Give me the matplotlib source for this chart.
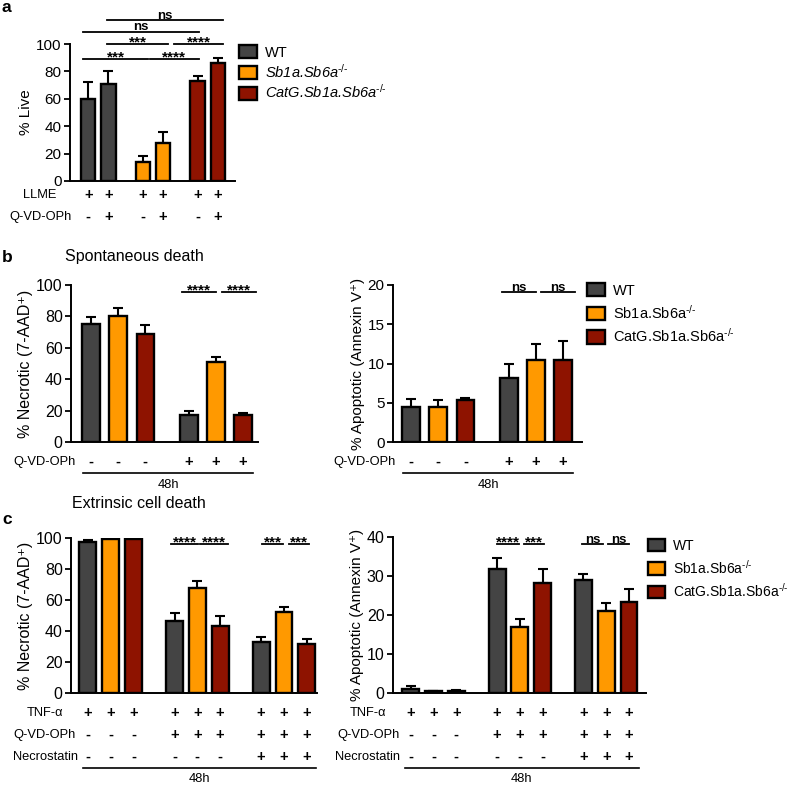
import numpy as np
import matplotlib
matplotlib.use("Agg")
import matplotlib.pyplot as plt
import matplotlib.patches as mpatches
from matplotlib import transforms

plt.rcParams['font.family'] = ['Liberation Sans', 'DejaVu Sans']
plt.rcParams['mathtext.fontset'] = 'custom'
plt.rcParams['mathtext.rm'] = 'Liberation Sans'
plt.rcParams['mathtext.it'] = 'Liberation Sans:italic'

# genotypes and colours
genotypes = ["WT", "Sb1a.Sb6a$^{\u2010/\u2010}$", "CatG.Sb1a.Sb6a$^{\u2010/\u2010}$"]
colors = ["#444444", "#FF9900", "#8E1300"]

# panel a: % live after LLME (WT, WT, Sb, Sb, CatG, CatG)
a_mean = [60, 71, 14, 28, 73, 86]
a_err = [12, 9, 4, 8, 4, 4]
a_llme = ["+", "+", "+", "+", "+", "+"]
a_qvd = ["-", "+", "-", "+", "-", "+"]

# panel b: spontaneous death, 48h (WT, Sb, CatG) x (-QVD, +QVD)
b_nec_mean = [75, 80, 69, 17.5, 51, 17]
b_nec_err = [4.5, 5.5, 5.5, 2, 3, 1.5]
b_apo_mean = [4.4, 4.5, 5.3, 8.1, 10.4, 10.4]
b_apo_err = [1.1, 0.8, 0.3, 1.8, 2.1, 2.5]
b_qvd = ["-", "-", "-", "+", "+", "+"]

# panel c: extrinsic cell death, 48h
c_nec_mean = [97.4, 99.4, 99.4, 46.5, 67.7, 43.2, 32.9, 52.3, 31.6]
c_nec_err = [1.3, 0.4, 0.3, 5.1, 4.6, 6.5, 3.4, 3.2, 3.2]
c_apo_mean = [1.0, 0.4, 0.5, 31.8, 16.9, 28.2, 29.0, 21.0, 23.3]
c_apo_err = [0.8, 0.2, 0.2, 2.8, 2.1, 3.6, 1.5, 2.0, 3.3]
c_tnf = ["+"] * 9
c_qvd = ["-", "-", "-", "+", "+", "+", "+", "+", "+"]
c_nec = ["-", "-", "-", "-", "-", "-", "+", "+", "+"]

W, H = 800, 785
fig = plt.figure(figsize=(W / 100, H / 100), dpi=100)


def axes_px(x0, x1, ytop, ybot):
    return fig.add_axes([x0 / W, 1 - ybot / H, (x1 - x0) / W, (ybot - ytop) / H])


def bars(ax, pos, mean, err, cols, width, ymax, ticks, ylabel, xlim, fs=11.5, lfs=None):
    ax.bar(pos, mean, width, color=cols, edgecolor="black", linewidth=1.7, zorder=2)
    ax.errorbar(pos, mean, yerr=[np.zeros(len(err)), err], fmt="none", ecolor="black",
                elinewidth=1.5, capsize=3.5, capthick=1.5, zorder=1)
    ax.set_xlim(*xlim)
    ax.set_ylim(0, ymax)
    ax.set_yticks(ticks)
    ax.set_xticks([])
    ax.spines["top"].set_visible(False)
    ax.spines["right"].set_visible(False)
    ax.spines["left"].set_linewidth(1.4)
    ax.spines["bottom"].set_linewidth(1.4)
    ax.tick_params(axis="y", length=4, width=1.3, labelsize=fs, pad=2)
    ax.set_ylabel(ylabel, fontsize=lfs or fs, labelpad=2)


def sig(ax, x1, x2, y, label):
    ax.plot([x1, x2], [y, y], color="black", lw=1.3, clip_on=False)
    star = "*" in label
    ax.annotate(label, ((x1 + x2) / 2, y), xytext=(0, -1.5 if star else 1),
                textcoords="offset points", ha="center", va="baseline",
                fontsize=11 if star else 9.5, fontweight="bold", annotation_clip=False)


def row(ax, pos, marks, ypx, label, xlab):
    tr = transforms.blended_transform_factory(ax.transData, fig.transFigure)
    for p, m in zip(pos, marks):
        ax.text(p, 1 - ypx / H, m, transform=tr, ha="center", va="center",
                fontsize=10.5, fontweight="bold")
    fig.text(xlab / W, 1 - ypx / H, label, ha="center", va="center", fontsize=9.3)


def underline(ax, x1, x2, ypx, ytxt):
    tr = transforms.blended_transform_factory(ax.transData, fig.transFigure)
    ax.plot([x1, x2], [1 - ypx / H] * 2, color="black", lw=1.2, transform=tr, clip_on=False)
    ax.text((x1 + x2) / 2, 1 - ytxt / H, "48h", transform=tr, ha="center", va="center",
            fontsize=9.3)


def legend(x, ytop, italic, spacing, fs=10.5):
    handles = [mpatches.Patch(facecolor=c, edgecolor="black", linewidth=1.7) for c in colors]
    prop = {"size": fs, "style": "italic" if italic else "normal"}
    leg = fig.legend(handles, genotypes, loc="upper left", bbox_to_anchor=(x / W, 1 - ytop / H),
                     frameon=False, prop=prop, handlelength=1.2, handleheight=1.0,
                     handletextpad=0.6, labelspacing=spacing, borderpad=0, borderaxespad=0)
    if italic:
        leg.get_texts()[0].set_fontstyle("normal")


# ---------- panel a ----------
cols_a = [colors[0], colors[0], colors[1], colors[1], colors[2], colors[2]]
xa = np.array([0, 1, 2.7, 3.7, 5.4, 6.4])
axa = axes_px(70, 235, 44, 181)
bars(axa, xa, a_mean, a_err, cols_a, 0.7, 100, range(0, 101, 20), "% Live", (-0.9, 7.25), fs=11)
sig(axa, xa[0] - 0.25, xa[2] + 0.25, 89, "***")
sig(axa, xa[2] + 0.35, xa[4] + 0.05, 89, "****")
sig(axa, xa[1] - 0.05, xa[3] + 0.25, 100, "***")
sig(axa, xa[3] + 0.55, xa[5] + 0.25, 100, "****")
sig(axa, xa[0] - 0.25, xa[4] + 0.05, 109, "ns")
sig(axa, xa[1] - 0.05, xa[5] + 0.25, 117.5, "ns")
row(axa, xa, a_llme, 195, "LLME", 40)
row(axa, xa, a_qvd, 217, "Q-VD-OPh", 40)
legend(239, 45, True, 0.2)
fig.text(2 / W, 1 - 12 / H, "a", fontsize=12.5, fontweight="bold", va="baseline")

# ---------- panel b ----------
cols_b = colors * 2
xb = np.array([0, 1, 2, 3.6, 4.6, 5.6])
fig.text(2 / W, 1 - 262 / H, "b", fontsize=12.5, fontweight="bold", va="baseline")
fig.text(65 / W, 1 - 257 / H, "Spontaneous death", fontsize=11.5, va="center")

axb1 = axes_px(71, 258, 285, 442)
bars(axb1, xb, b_nec_mean, b_nec_err, cols_b, 0.65, 100, range(0, 101, 20),
     "% Necrotic (7-AAD\u207a)", (-0.74, 6.15))
sig(axb1, xb[3] - 0.26, xb[4], 95.5, "****")
sig(axb1, xb[4] + 0.22, xb[5] + 0.48, 95.5, "****")
row(axb1, xb, b_qvd, 462, "Q-VD-OPh", 44.5)
underline(axb1, xb[0] - 0.3, xb[-1] + 0.37, 473, 485)

axb2 = axes_px(393, 582, 285, 442)
bars(axb2, xb, b_apo_mean, b_apo_err, cols_b, 0.65, 20, range(0, 21, 5),
     "% Apoptotic (Annexin V\u207a)", (-0.67, 6.3), fs=11)
sig(axb2, xb[3] - 0.26, xb[4], 19.1, "ns")
sig(axb2, xb[4] + 0.2, xb[5] + 0.45, 19.1, "ns")
row(axb2, xb, b_qvd, 462, "Q-VD-OPh", 364)
underline(axb2, xb[0] - 0.3, xb[-1] + 0.37, 473, 485)
legend(587, 283, False, 0.4)

# ---------- panel c ----------
cols_c = colors * 3
xc = np.array([0, 1, 2, 3.8, 4.8, 5.8, 7.6, 8.6, 9.6])
fig.text(2 / W, 1 - 524 / H, "c", fontsize=12.5, fontweight="bold", va="baseline")
fig.text(72 / W, 1 - 504 / H, "Extrinsic cell death", fontsize=11.5, va="center")

axc1 = axes_px(71, 317, 538, 693)
bars(axc1, xc, c_nec_mean, c_nec_err, cols_c, 0.74, 100, range(0, 101, 20),
     "% Necrotic (7-AAD\u207a)", (-0.74, 10.05))
sig(axc1, xc[3] - 0.15, xc[4] + 0.05, 96, "****")
sig(axc1, xc[4] + 0.13, xc[5] + 0.35, 96, "****")
sig(axc1, xc[6] + 0.05, xc[7] - 0.05, 96, "***")
sig(axc1, xc[7] + 0.2, xc[8] + 0.1, 96, "***")
row(axc1, xc, c_tnf, 713, "TNF-\u03b1", 45)
row(axc1, xc, c_qvd, 735, "Q-VD-OPh", 45)
row(axc1, xc, c_nec, 757, "Necrostatin", 45)
underline(axc1, xc[0] - 0.2, xc[-1] + 0.4, 768, 779)

axc2 = axes_px(393, 646, 537, 693)
bars(axc2, xc, c_apo_mean, c_apo_err, cols_c, 0.74, 40, range(0, 41, 10),
     "% Apoptotic (Annexin V\u207a)", (-0.78, 10.35), lfs=11)
sig(axc2, xc[3], xc[4] - 0.05, 38.2, "****")
sig(axc2, xc[4] + 0.17, xc[5] + 0.05, 38.2, "***")
sig(axc2, xc[6] - 0.05, xc[7] - 0.15, 38.2, "ns")
sig(axc2, xc[7] + 0.1, xc[8], 38.2, "ns")
row(axc2, xc, c_tnf, 713, "TNF-\u03b1", 368)
row(axc2, xc, c_qvd, 735, "Q-VD-OPh", 368)
row(axc2, xc, c_nec, 757, "Necrostatin", 368)
underline(axc2, xc[0] - 0.26, xc[-1] + 0.43, 768, 779)
legend(648, 539, False, 0.4, fs=10)

fig.savefig("out.png", dpi=100)
